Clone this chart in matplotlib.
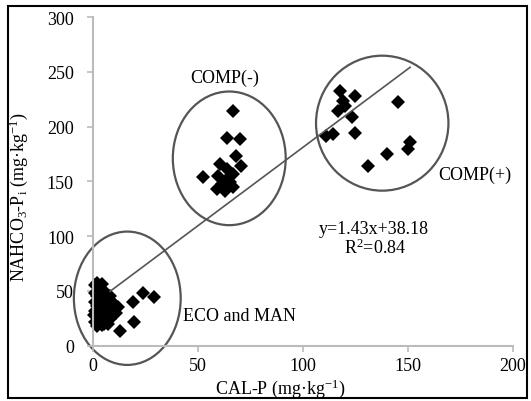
import matplotlib
matplotlib.use("Agg")
import matplotlib.pyplot as plt
from matplotlib.patches import Ellipse, Rectangle
import numpy as np

plt.rcParams['font.family'] = ['Liberation Serif', 'DejaVu Serif']
plt.rcParams['mathtext.fontset'] = 'custom'
plt.rcParams['mathtext.rm'] = 'Liberation Serif'
plt.rcParams['mathtext.it'] = 'Liberation Serif'

# ECO and MAN cluster
eco_x = [1, 2, 4, 3, 5, 1, 2, 4, 6, 3, 1, 5, 7, 9, 2, 4, 6, 8, 10, 1, 3, 5, 7, 11,
         2, 4, 6, 8, 1, 3, 5, 2, 4, 6, 9, 12, 3, 0.5, 8, 10, 7, 9,
         18.8, 23.7, 29, 19.4, 12.7]
eco_y = [55, 57, 56, 52, 50, 48, 45, 46, 44, 42, 40, 40, 41, 40, 36, 35, 36, 34, 33, 32,
         30, 30, 29, 30, 26, 25, 25, 24, 22, 21, 20, 18, 19, 22, 27, 35, 48, 28,
         45, 38, 20, 30,
         39.6, 48.5, 44, 22, 13]

# COMP(-) cluster
compm_x = [66.7, 63.6, 69.9, 68, 70.3, 52.1, 60.4, 63.6, 59.6, 63.6, 66.7, 58.8, 62.8,
           66.7, 61.2, 65.2]
compm_y = [214.5, 189.6, 188.6, 173.4, 164.3, 153.7, 165.8, 161, 155, 152, 156.7, 143,
           141.5, 144.6, 147.8, 149]

# COMP(+) cluster
compp_x = [117.6, 124.7, 116.8, 120, 123.2, 114.4, 124.7, 145.4, 151, 150.1, 139.8,
           131, 119.2, 111]
compp_y = [232.7, 228, 214.5, 219, 208.4, 193.2, 193.8, 222.7, 185.6, 179.5, 175,
           164, 223.6, 191.6]

slope = 1.43
intercept = 38.18

fig = plt.figure(figsize=(5.31, 4.02), dpi=100)
ax = fig.add_axes([0.1757, 0.1376, 0.7903, 0.8176])

x_all = eco_x + compm_x + compp_x
y_all = eco_y + compm_y + compp_y
ax.plot(x_all, y_all, 'D', color='black', markersize=7.5, markeredgewidth=0, clip_on=False)

xl = np.array([8, 151])
ax.plot(xl, slope * xl + intercept, color='#555555', lw=1.2)

for cx, cy, w, h in [(16.2, 43.3, 50.9, 121.7), (64.8, 171, 53.8, 122), (137.7, 203.1, 63.1, 123.2)]:
    ax.add_patch(Ellipse((cx, cy), w, h, fill=False, edgecolor='#555555', lw=1.6, clip_on=False))

ax.set_xlim(0, 200)
ax.set_ylim(0, 300)
ax.set_xticks([0, 50, 100, 150, 200])
ax.set_yticks([0, 50, 100, 150, 200, 250, 300])
for s in ['top', 'right']:
    ax.spines[s].set_visible(False)
for s in ['left', 'bottom']:
    ax.spines[s].set_color('#bbbbbb')
    ax.spines[s].set_linewidth(1.5)
ax.tick_params(colors='#bbbbbb', labelcolor='black', labelsize=13, length=4, width=1.2)
ax.tick_params(axis='x', pad=4)
ax.tick_params(axis='y', pad=10)

ax.set_xlabel('CAL-P (mg·kg$^{-1}$)', fontsize=13)
ax.set_ylabel('NAHCO$_3$-P$_i$ (mg·kg$^{-1}$)', fontsize=13)
ax.xaxis.set_label_coords(0.445, -0.095)
ax.yaxis.set_label_coords(-0.15, 0.455)

ax.text(62.8, 245, 'COMP(-)', fontsize=13, ha='center', va='center')
ax.text(164.3, 156.7, 'COMP(+)', fontsize=13, ha='left', va='center')
ax.text(133.5, 107.4, 'y=1.43x+38.18', fontsize=13, ha='center', va='center')
ax.text(134.5, 90, 'R$^2$=0.84', fontsize=13, ha='center', va='center')
ax.text(42.8, 28, 'ECO and MAN', fontsize=13, ha='left', va='center')

fig.patches.append(Rectangle((8 / 531, 3 / 402), 519 / 531, 392 / 402, transform=fig.transFigure,
                             fill=False, edgecolor='black', lw=1.5))

fig.savefig('out.png', dpi=100)
